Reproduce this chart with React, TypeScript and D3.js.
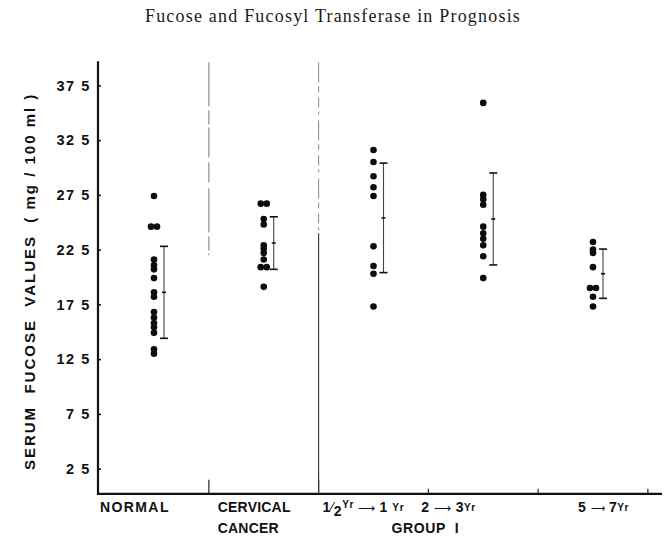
import React, { useEffect, useRef } from 'react';
import * as d3 from 'd3';

// chart text
const title = 'Fucose and Fucosyl Transferase in Prognosis';
const yTitle = 'SERUM  FUCOSE  VALUES  ( mg / 100 ml )';

// groups along the x axis
const groups = ['normal', 'cervical', 'halfToOne', 'twoToThree', 'fiveToSeven'];
const yTicks = [2.5, 7.5, 12.5, 17.5, 22.5, 27.5, 32.5, 37.5];

// serum fucose values (mg/100 ml)
const normalValues = [27.4, 24.6, 24.6, 21.6, 21.1, 20.7, 19.9, 18.6, 18.2, 16.8, 16.3, 15.8, 15.4, 14.9, 13.4, 13.0];
const cervicalValues = [26.7, 26.7, 25.3, 24.8, 22.9, 22.6, 22.2, 21.6, 20.9, 20.9, 19.1];
const halfToOneValues = [31.6, 30.5, 29.2, 28.2, 27.4, 22.8, 21.0, 20.3, 17.3];
const twoToThreeValues = [35.9, 27.5, 27.1, 26.6, 24.6, 24.0, 23.5, 22.9, 21.9, 19.9];
const fiveToSevenValues = [23.2, 22.5, 22.2, 20.9, 19.0, 19.0, 18.2, 17.3];

// mean +/- sd bars
const means = [18.6, 23.1, 25.4, 25.3, 20.3];
const sds = [4.2, 2.4, 5.0, 4.2, 2.25];

const allValues = [normalValues, cervicalValues, halfToOneValues, twoToThreeValues, fiveToSevenValues];

export default function App() {
  const ref = useRef<SVGSVGElement>(null);

  useEffect(() => {
    const svg = d3.select(ref.current);
    svg.selectAll('*').remove();

    const axisX = 98;
    const axisRight = 662;
    const sans = '"Liberation Sans", Arial, sans-serif';

    const y = d3.scaleLinear().domain([0, 40]).range([496, 58]);
    const x = d3.scalePoint<string>().domain(groups).range([154, 593]);
    const step = x.step();
    const axisY = y(0.2);

    svg.append('rect').attr('width', 665).attr('height', 545).attr('fill', '#fff');

    // page title
    svg.append('text')
      .attr('x', 333).attr('y', 22)
      .attr('text-anchor', 'middle')
      .attr('font-family', '"Liberation Serif", "Times New Roman", serif')
      .attr('font-size', 18)
      .attr('letter-spacing', 1.2)
      .attr('fill', '#1a1a1a')
      .text(title);

    // y axis: ticks point inward, labels on the left
    const yAxis = d3.axisLeft(y)
      .tickValues(yTicks)
      .tickSize(-3)
      .tickPadding(7)
      .tickFormat(d => String(d).replace('.', ' '));

    const gy = svg.append('g').attr('transform', `translate(${axisX},0)`).call(yAxis);
    gy.select('.domain').remove();
    gy.selectAll('line').attr('stroke', '#111').attr('stroke-width', 1.5);
    gy.selectAll('text')
      .attr('font-family', sans)
      .attr('font-weight', 'bold')
      .attr('font-size', 14.5)
      .attr('letter-spacing', 1.6)
      .attr('fill', '#111');

    // axis lines
    svg.append('line')
      .attr('x1', axisX).attr('x2', axisX)
      .attr('y1', y(39.7)).attr('y2', axisY + 1)
      .attr('stroke', '#111').attr('stroke-width', 2.2);
    svg.append('line')
      .attr('x1', axisX - 1).attr('x2', axisRight)
      .attr('y1', axisY).attr('y2', axisY)
      .attr('stroke', '#111').attr('stroke-width', 2.2);

    // bottom ticks between groups
    svg.selectAll('.xtick')
      .data(groups)
      .enter()
      .append('line')
      .attr('x1', d => (x(d) as number) + step / 2)
      .attr('x2', d => (x(d) as number) + step / 2)
      .attr('y1', axisY)
      .attr('y2', (d, i) => i < 2 ? axisY - 14 : axisY - 5)
      .attr('stroke', '#222').attr('stroke-width', 1.2);

    // vertical dividers
    const div1 = (x(groups[0]) as number) + step / 2;
    const div2 = (x(groups[1]) as number) + step / 2;
    svg.append('line')
      .attr('x1', div1).attr('x2', div1)
      .attr('y1', y(39.6)).attr('y2', y(22.0))
      .attr('stroke', '#777').attr('stroke-width', 1)
      .attr('stroke-dasharray', '44,4,14,3,30,5,20,6');
    svg.append('line')
      .attr('x1', div2).attr('x2', div2)
      .attr('y1', y(39.6)).attr('y2', y(24.0))
      .attr('stroke', '#888').attr('stroke-width', 1)
      .attr('stroke-dasharray', '20,4,6,5,10,4,3,6');
    svg.append('line')
      .attr('x1', div2).attr('x2', div2)
      .attr('y1', y(24.0)).attr('y2', axisY)
      .attr('stroke', '#333').attr('stroke-width', 1.1);

    // y axis title
    svg.append('text')
      .attr('transform', `translate(29,${y(19.6)}) rotate(-90)`)
      .attr('text-anchor', 'middle')
      .attr('dominant-baseline', 'central')
      .attr('font-family', sans)
      .attr('font-weight', 'bold')
      .attr('font-size', 15)
      .attr('letter-spacing', 2)
      .attr('fill', '#111')
      .style('white-space', 'pre')
      .text(yTitle);

    // dots, equal values sit side by side
    const dots: { g: string; v: number; k: number; n: number }[] = [];
    allValues.forEach((vals, gi) => {
      const counts = d3.rollup(vals, v => v.length, v => v);
      const seen = new Map<number, number>();
      vals.forEach(v => {
        const k = seen.get(v) || 0;
        seen.set(v, k + 1);
        dots.push({ g: groups[gi], v, k, n: counts.get(v) as number });
      });
    });

    svg.append('g')
      .selectAll('circle')
      .data(dots)
      .enter()
      .append('circle')
      .attr('cx', d => (x(d.g) as number) + (d.k - (d.n - 1) / 2) * 6)
      .attr('cy', d => y(d.v))
      .attr('r', 3.3)
      .attr('fill', '#0d0d0d');

    // mean +/- sd bars
    const bars = svg.append('g')
      .selectAll('g')
      .data(groups)
      .enter()
      .append('g')
      .attr('transform', d => `translate(${(x(d) as number) + 10},0)`);

    bars.append('line')
      .attr('y1', (d, i) => y(means[i] + sds[i]))
      .attr('y2', (d, i) => y(means[i] - sds[i]))
      .attr('stroke', '#444').attr('stroke-width', 1.1);
    bars.append('line')
      .attr('x1', -4).attr('x2', 4)
      .attr('y1', (d, i) => y(means[i] + sds[i]))
      .attr('y2', (d, i) => y(means[i] + sds[i]))
      .attr('stroke', '#111').attr('stroke-width', 1.6);
    bars.append('line')
      .attr('x1', -4).attr('x2', 4)
      .attr('y1', (d, i) => y(means[i] - sds[i]))
      .attr('y2', (d, i) => y(means[i] - sds[i]))
      .attr('stroke', '#111').attr('stroke-width', 1.6);
    bars.append('line')
      .attr('x1', -2).attr('x2', 2)
      .attr('y1', (d, i) => y(means[i]))
      .attr('y2', (d, i) => y(means[i]))
      .attr('stroke', '#111').attr('stroke-width', 1.6);

    // group labels under the axis
    const labelY = axisY + 18;
    const label = (xPos: number, yPos: number, anchor = 'start') =>
      svg.append('text')
        .attr('x', xPos).attr('y', yPos)
        .attr('text-anchor', anchor)
        .attr('font-family', sans)
        .attr('font-weight', 'bold')
        .attr('font-size', 14)
        .attr('letter-spacing', 0.6)
        .attr('fill', '#111');

    const xs = groups.map(g => x(g) as number);
    label(xs[0] - 54, labelY).attr('letter-spacing', 1.4).text('NORMAL');
    label(xs[1] - 46, labelY).attr('letter-spacing', 0.2).text('CERVICAL');
    label(xs[1] - 46, labelY + 21).attr('letter-spacing', 0.2).text('CANCER');

    const half = label(xs[2] - 51, labelY);
    half.append('tspan').text('1');
    half.append('tspan').attr('font-weight', 'normal').text('⁄');
    half.append('tspan').attr('dy', 4).text('2');
    half.append('tspan').attr('dy', -8).attr('font-size', 10).text('Yr');
    half.append('tspan').attr('dy', 4).attr('font-size', 12).attr('font-weight', 'normal').text(' ⟶ ');
    half.append('tspan').text('1 ');
    half.append('tspan').attr('dy', -1).attr('font-size', 10).text('Yr');

    const two = label(xs[3] - 62, labelY);
    two.append('tspan').text('2 ');
    two.append('tspan').attr('font-size', 12).attr('font-weight', 'normal').text('⟶ ');
    two.append('tspan').text('3');
    two.append('tspan').attr('dy', -1).attr('font-size', 10).text('Yr');

    const five = label(xs[4] - 15, labelY);
    five.append('tspan').text('5 ');
    five.append('tspan').attr('font-size', 10).attr('font-weight', 'normal').text('⟶ ');
    five.append('tspan').text('7');
    five.append('tspan').attr('dy', -1).attr('font-size', 10).text('Yr');

    label(xs[2] + step / 2 - 3, labelY + 21, 'middle')
      .style('white-space', 'pre')
      .text('GROUP  I');
  }, []);

  return (
    <svg ref={ref} width={665} height={545}
      style={{ position: 'absolute', left: 0, top: 0, display: 'block' }} />
  );
}
